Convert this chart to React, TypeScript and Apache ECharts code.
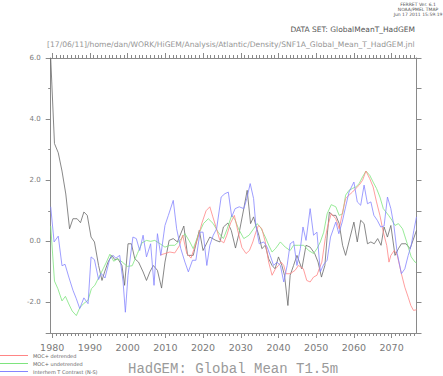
import React, { useEffect, useRef } from "react";
import * as echarts from "echarts";

// ---- data (year, value) ----
const globalMeanT: [number, number][] = [
  [1979.6, 6.0], [1980.6, 3.2], [1981.6, 2.9], [1982.6, 2.3], [1983.6, 1.55], [1984.6, 0.41],
  [1985.5, 0.74], [1986.6, 0.74], [1987.5, 0.61], [1988.4, 0.96], [1989.3, 0.85], [1990.3, 0.14],
  [1991.2, -0.02], [1992.3, -0.79], [1993.2, -1.28], [1993.9, -1.0], [1994.8, -0.68], [1995.8, -0.46],
  [1996.6, -0.6], [1997.4, -0.57], [1998.5, -0.79], [1999.2, -1.44], [2000.1, -0.08], [2001.0, -0.08],
  [2001.9, -0.57], [2002.9, -0.68], [2004.1, -1.0], [2005.0, -1.28], [2005.9, -1.0], [2006.8, -0.79],
  [2007.9, -0.95], [2009.0, -1.53], [2009.9, -0.68], [2011.0, 0.03], [2012.1, 0.09], [2013.2, -0.02],
  [2014.9, 0.5], [2015.9, -0.46], [2017.4, -0.46], [2019.0, 0.36], [2020.0, -0.3], [2021.8, 0.14],
  [2023.4, 0.03], [2024.5, -0.02], [2025.4, 0.47], [2026.6, 0.6], [2027.5, 0.35], [2028.6, -0.22],
  [2029.6, 0.3], [2030.8, 1.07], [2031.7, 1.67], [2032.6, 0.58], [2033.4, 0.8], [2034.1, 0.47],
  [2034.8, 0.2], [2035.6, -0.24], [2036.5, -0.13], [2037.4, -0.57], [2038.3, -0.79], [2039.1, -0.9],
  [2040.0, -0.51], [2040.9, -0.79], [2041.6, -1.11], [2042.5, -2.1], [2043.1, -1.11], [2044.0, -0.79],
  [2044.9, -0.46], [2046.2, -0.9], [2047.3, -0.13], [2048.4, -0.19], [2049.6, -0.4], [2050.5, -0.68],
  [2051.4, -1.17], [2052.3, -0.79], [2053.0, 0.3], [2053.5, 0.96], [2054.3, 0.85], [2055.2, 0.85],
  [2056.1, 0.58], [2057.0, -0.13], [2057.8, -0.46], [2059.0, 0.14], [2060.0, 0.63], [2060.9, -0.02],
  [2061.8, 0.69], [2062.7, 0.58], [2063.6, -0.08], [2064.5, -0.02], [2065.4, -0.08], [2066.3, 0.09],
  [2067.2, -0.13], [2068.0, 0.47], [2068.9, 0.14], [2069.8, 0.52], [2070.9, -0.46], [2071.8, -0.24],
  [2072.6, -0.08], [2073.8, -0.08], [2074.9, -0.24], [2076.6, 0.36],
];

const mocDetrended: [number, number][] = [
  [2008.6, -0.45], [2009.9, -0.4], [2011.2, -0.35], [2012.5, -0.38], [2013.7, -0.15], [2014.6, 0.2],
  [2015.7, -0.4], [2016.8, -0.55], [2017.6, -0.25], [2018.6, 0.1], [2019.7, 0.6], [2020.8, 1.0],
  [2021.8, 1.13], [2022.6, 0.8], [2023.6, 0.4], [2024.4, 0.05], [2025.5, -0.05], [2026.3, 0.2],
  [2027.3, 0.6], [2028.3, 0.85], [2029.3, 0.3], [2030.3, -0.2], [2031.4, -0.4], [2032.3, -0.3],
  [2033.2, -0.02], [2034.0, 0.3], [2034.7, 0.52], [2035.6, 0.41], [2036.5, -0.02], [2037.4, -0.68],
  [2038.3, -1.11], [2039.2, -0.9], [2040.0, -0.79], [2040.7, -0.68], [2041.4, -0.79], [2042.0, -1.06],
  [2043.1, -1.06], [2044.4, -0.95], [2045.3, -0.79], [2046.6, -0.9], [2047.5, -1.28], [2048.4, -1.33],
  [2049.3, -1.17], [2050.2, -1.11], [2050.8, -0.9], [2051.5, -0.68], [2052.4, 0.09], [2053.0, 0.47],
  [2054.0, 0.91], [2055.2, 0.74], [2056.1, 0.41], [2057.0, 0.96], [2057.8, 1.4], [2058.7, 1.51],
  [2059.6, 1.61], [2060.5, 1.73], [2061.4, 1.84], [2062.3, 2.0], [2063.2, 2.3], [2064.2, 2.05],
  [2065.1, 1.78], [2066.0, 1.29], [2066.9, 0.85], [2067.8, 0.3], [2068.7, -0.13], [2069.3, -0.68],
  [2069.8, -0.46], [2070.7, -0.3], [2071.5, -0.46], [2072.6, -1.06], [2073.5, -1.5], [2074.4, -1.83],
  [2075.1, -2.1], [2075.8, -2.26], [2076.6, -2.24],
];

const mocUndetrended: [number, number][] = [
  [1979.6, 0.5], [1980.6, -1.3], [1981.5, -1.55], [1982.6, -1.95], [1983.5, -1.8], [1984.4, -2.05],
  [1985.3, -2.28], [1986.4, -2.43], [1987.3, -2.18], [1988.3, -2.04], [1989.5, -1.93], [1990.4, -1.55],
  [1991.3, -1.44], [1992.4, -1.17], [1993.5, -0.9], [1994.3, -0.7], [1995.3, -0.42], [1996.3, -0.65],
  [1997.4, -0.57], [1998.6, -0.68], [1999.9, -0.82], [2001.2, -0.8], [2002.6, -0.4], [2003.8, -0.05],
  [2005.0, 0.03], [2006.1, 0.0], [2007.2, 0.03], [2008.6, -0.08], [2009.9, -0.19], [2011.2, -0.13],
  [2012.5, -0.13], [2013.9, 0.03], [2015.2, 0.25], [2016.5, -0.02], [2017.4, -0.24], [2018.7, 0.2],
  [2020.1, 0.58], [2021.4, 0.74], [2022.7, 0.58], [2024.0, 0.3], [2025.4, 0.09], [2026.4, 0.41],
  [2027.6, 0.85], [2028.5, 0.7], [2029.4, 0.41], [2030.8, 0.09], [2032.2, 0.2], [2033.4, 0.41],
  [2034.3, 0.58], [2035.2, 0.47], [2036.5, 0.14], [2037.5, -0.15], [2038.3, -0.35], [2039.2, -0.24],
  [2040.5, -0.02], [2041.8, -0.19], [2043.1, -0.3], [2044.0, -0.13], [2045.3, -0.13], [2046.7, -0.13],
  [2048.0, -0.3], [2049.3, -0.4], [2050.2, -0.24], [2051.1, -0.02], [2052.0, 0.3], [2052.9, 0.9],
  [2054.0, 1.2], [2055.2, 1.13], [2056.1, 0.85], [2057.0, 0.9], [2057.8, 1.51], [2058.7, 1.67],
  [2059.6, 1.73], [2060.5, 1.78], [2061.4, 1.89], [2062.3, 2.11], [2063.2, 2.3], [2064.2, 2.16],
  [2065.1, 1.94], [2066.0, 1.73], [2066.9, 1.45], [2067.8, 1.07], [2069.2, 0.85], [2070.1, 0.69],
  [2070.9, 0.52], [2071.8, 0.58], [2072.9, 0.41], [2074.0, -0.02], [2075.2, -0.51], [2076.2, -0.68],
  [2076.6, -0.7],
];

const interhemContrast: [number, number][] = [
  [1979.6, 1.13], [1980.5, -0.02], [1981.6, 0.17], [1982.6, -0.8], [1983.4, -0.75], [1984.4, -1.17],
  [1985.5, -1.6], [1986.4, -1.88], [1987.3, -2.2], [1988.4, -1.85], [1989.5, -2.04], [1990.3, -0.51],
  [1991.2, -0.6], [1992.3, -1.25], [1993.0, -1.05], [1994.0, -1.2], [1995.2, -0.6], [1996.1, -0.46],
  [1996.9, -0.55], [1997.9, -0.46], [1998.8, -1.33], [1999.4, -2.32], [2000.1, -1.11], [2001.4, 0.14],
  [2002.3, 0.09], [2003.2, -0.3], [2004.1, 0.2], [2005.0, -0.51], [2006.1, -0.08], [2007.0, -1.44],
  [2007.9, 0.25], [2008.8, -0.46], [2009.9, 0.52], [2010.8, 0.85], [2012.1, 1.34], [2013.0, 0.41],
  [2014.1, -0.24], [2015.2, -0.68], [2016.1, -1.0], [2017.2, -0.62], [2018.1, -0.62], [2019.2, 0.3],
  [2020.0, 0.3], [2021.0, -0.79], [2021.8, -0.13], [2022.7, 0.2], [2023.6, 0.41], [2024.8, 1.45],
  [2025.8, 1.56], [2026.7, 1.61], [2027.6, 0.8], [2028.5, 1.07], [2029.6, 1.13], [2030.8, 1.07],
  [2031.6, 1.4], [2032.5, 1.89], [2033.4, 1.4], [2034.0, 0.52], [2034.9, -0.08], [2036.1, -0.02],
  [2037.0, -0.19], [2037.8, -0.46], [2038.7, -0.79], [2039.6, -0.68], [2040.5, -0.79], [2041.4, -1.33],
  [2042.3, -0.79], [2043.1, -0.08], [2044.0, 0.0], [2044.9, -0.79], [2045.8, -0.24], [2046.5, 0.47],
  [2047.3, 0.03], [2048.4, 1.07], [2049.3, 0.2], [2050.2, 0.3], [2051.1, -1.0], [2052.0, -0.75],
  [2052.9, -0.62], [2053.8, 0.14], [2055.2, 0.63], [2056.0, 0.25], [2056.9, 0.63], [2057.8, 1.13],
  [2058.7, 1.61], [2060.0, 1.94], [2060.9, 1.29], [2061.8, 1.18], [2062.7, 1.84], [2063.6, 1.23],
  [2064.5, 1.29], [2065.3, 0.85], [2066.2, 0.69], [2067.1, 0.47], [2068.0, 0.5], [2068.9, 1.45],
  [2069.8, 1.07], [2070.6, 0.52], [2071.5, -0.4], [2072.6, -1.06], [2073.5, -0.9], [2074.4, -0.46],
  [2075.2, -0.13], [2075.9, 0.36], [2076.6, 0.8],
];

// ---- axis ticks / labels ----
const decadeLabels = [1980, 1990, 2000, 2010, 2020, 2030, 2040, 2050, 2060, 2070];
const yLabelValues = [-2, 0, 2, 4, 6];
const yMinorTicks = [-1, 1, 3, 5];
const yMajorTicks = [-3, -2, 0, 2, 4, 6];
const yAllTicks = [-3, -2, -1, 0, 1, 2, 3, 4, 5, 6];
const X_MIN = 1979.6;
const X_MAX = 2076.6;

const legendItems = [
  { name: "MOC+ detrended", color: "#ff8585" },
  { name: "MOC+ undetrended", color: "#7ee47e" },
  { name: "Interhem T Contrast (N-S)", color: "#8585ff" },
];

const AXIS_COLOR = "#8a8a8a";

export default function App() {
  const ref = useRef<HTMLDivElement>(null);
  useEffect(() => {
    if (!ref.current) return;
    const chart = echarts.init(ref.current, undefined, { renderer: "svg" });
    const yearTicks: number[] = [];
    for (let y = 1980; y <= 2076; y++) yearTicks.push(y);

    const xBase = {
      type: "value" as const,
      min: X_MIN,
      max: X_MAX,
      splitLine: { show: false },
      axisLine: { show: true, onZero: false, lineStyle: { color: AXIS_COLOR, width: 1 } },
    };
    const yBase = {
      type: "value" as const,
      min: -3,
      max: 6,
      splitLine: { show: false },
      axisLine: { show: true, onZero: false, lineStyle: { color: AXIS_COLOR, width: 1 } },
    };
    const noLine = { show: false, onZero: false };

    const lineSeries = (name: string, data: [number, number][], color: string) => ({
      type: "line" as const,
      name,
      data,
      xAxisIndex: 0,
      yAxisIndex: 0,
      showSymbol: false,
      symbol: "none",
      lineStyle: { color, width: 0.8 },
      itemStyle: { color },
      silent: true,
    });

    const graphics: any[] = [
      { type: "text", x: 418, y: 4, style: { text: "FERRET Ver. 6.1", fontSize: 4.5, fontFamily: "DejaVu Sans", fill: "#555", align: "center", verticalAlign: "middle" } },
      { type: "text", x: 418, y: 9, style: { text: "NOAA/PMEL TMAP", fontSize: 4.5, fontFamily: "DejaVu Sans", fill: "#555", align: "center", verticalAlign: "middle" } },
      { type: "text", x: 418, y: 14, style: { text: "Jun 17 2011 15:59:19", fontSize: 4.5, fontFamily: "DejaVu Sans", fill: "#555", align: "center", verticalAlign: "middle" } },
      { type: "text", x: 415, y: 29, style: { text: "DATA SET: GlobalMeanT_HadGEM", fontSize: 7.5, fontFamily: "DejaVu Sans", fill: "#555", align: "right", verticalAlign: "middle" } },
      { type: "text", x: 47, y: 44, style: { text: "[17/06/11]/home/dan/WORK/HiGEM/Analysis/Atlantic/Density/SNF1A_Global_Mean_T_HadGEM.jnl", fontSize: 7.6, fontFamily: "DejaVu Sans", fill: "#959595", align: "left", verticalAlign: "middle" } },
      { type: "text", x: 128, y: 368.5, style: { text: "HadGEM: Global Mean T1.5m", fontSize: 14, fontFamily: "Liberation Mono", fill: "#9a9a9a", align: "left", verticalAlign: "middle" } },
    ];
    legendItems.forEach((it, i) => {
      const y = 355.5 + i * 8;
      graphics.push({ type: "line", shape: { x1: 0, y1: y, x2: 28, y2: y }, style: { stroke: it.color, lineWidth: 1 } });
      graphics.push({ type: "text", x: 33, y, style: { text: it.name, fontSize: 5, fontFamily: "DejaVu Sans", fill: "#666", align: "left", verticalAlign: "middle" } });
    });

    chart.setOption({
      animation: false,
      backgroundColor: "#ffffff",
      grid: { left: 50.7, right: 26.5, top: 58, bottom: 43, containLabel: false },
      xAxis: [
        {
          ...xBase,
          position: "bottom",
          axisTick: { show: true, customValues: yearTicks, length: 3, lineStyle: { color: AXIS_COLOR } },
          axisLabel: {
            show: true,
            customValues: decadeLabels,
            formatter: (v: number) => String(Math.round(v)),
            fontSize: 9.5,
            fontFamily: "DejaVu Sans",
            color: "#7a7a7a",
            margin: 9,
          },
        },
        {
          ...xBase,
          position: "bottom",
          axisLine: noLine,
          axisTick: { show: true, customValues: decadeLabels, length: 5, lineStyle: { color: AXIS_COLOR } },
          axisLabel: { show: false },
        },
        {
          ...xBase,
          position: "top",
          axisTick: { show: true, customValues: yearTicks, length: 3, lineStyle: { color: AXIS_COLOR } },
          axisLabel: { show: false },
        },
        {
          ...xBase,
          position: "top",
          axisLine: noLine,
          axisTick: { show: true, customValues: decadeLabels, length: 5, lineStyle: { color: AXIS_COLOR } },
          axisLabel: { show: false },
        },
      ],
      yAxis: [
        {
          ...yBase,
          position: "left",
          axisTick: { show: true, customValues: yMinorTicks, length: 2.5, lineStyle: { color: AXIS_COLOR } },
          axisLabel: {
            show: true,
            customValues: yLabelValues,
            formatter: (v: number) => v.toFixed(1),
            fontSize: 7,
            fontFamily: "DejaVu Sans",
            color: "#7a7a7a",
            margin: 10,
          },
        },
        {
          ...yBase,
          position: "left",
          axisLine: noLine,
          axisTick: { show: true, customValues: yMajorTicks, length: 5, lineStyle: { color: AXIS_COLOR } },
          axisLabel: { show: false },
        },
        {
          ...yBase,
          position: "right",
          axisTick: { show: true, customValues: yAllTicks, length: 5, lineStyle: { color: AXIS_COLOR } },
          axisLabel: { show: false },
        },
      ],
      series: [
        lineSeries("Global Mean T1.5m", globalMeanT, "#6a6a6a"),
        lineSeries(legendItems[1].name, mocUndetrended, legendItems[1].color),
        lineSeries(legendItems[0].name, mocDetrended, legendItems[0].color),
        lineSeries(legendItems[2].name, interhemContrast, legendItems[2].color),
      ],
      graphic: graphics,
    });
    return () => chart.dispose();
  }, []);

  return (
    <div
      ref={ref}
      style={{ position: "fixed", left: 0, top: 0, width: 443, height: 376, background: "#fff" }}
    />
  );
}
